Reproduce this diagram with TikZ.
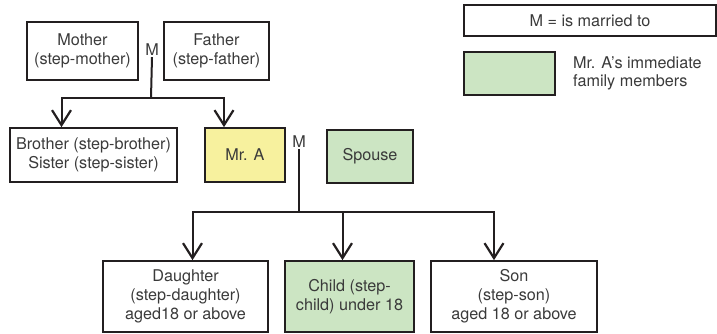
\documentclass[tikz,border=0pt]{standalone}
\usepackage{fontspec}
\setmainfont{TeX Gyre Heros}
\usetikzlibrary{arrows.meta}
\definecolor{lineC}{HTML}{231F20}
\definecolor{txtC}{HTML}{3A3A3A}
\definecolor{yel}{HTML}{F7F19E}
\definecolor{grn}{HTML}{CCE5C3}
\tikzset{
  box/.style={draw=lineC, line width=1.7pt, inner sep=0pt, align=center, text=txtC,
    font=\fontsize{16.2}{18.8}\selectfont},
  mlab/.style={text=txtC, inner sep=1pt, font=\fontsize{16.2}{18.8}\selectfont},
  conn/.style={draw=lineC, line width=2pt},
  arr/.style={conn, -{Straight Barb[length=15pt,width=19pt,line width=2.2pt]}}
}
\begin{document}
\begin{tikzpicture}[x=1pt,y=-1pt]
\useasboundingbox (0,0) rectangle (717,333);
% top generation
\node[box, minimum width=111pt, minimum height=58pt] (mother) at (82.5,51) {Mother\\(step-mother)};
\node[box, minimum width=105pt, minimum height=58pt] (father) at (216.5,51) {Father\\(step-father)};
\node[mlab] (m1) at (152,50) {M};
% middle
\node[box, minimum width=167pt, minimum height=54pt] (brother) at (93.5,155) {Brother (step-brother)\\Sister (step-sister)};
\node[box, fill=yel, minimum width=80pt, minimum height=54pt] (mra) at (245,155) {Mr. A};
\node[mlab] (m2) at (299,142) {M};
\node[box, fill=grn, minimum width=86pt, minimum height=53pt] (spouse) at (370,156.5) {Spouse};
% bottom
\node[box, minimum width=165pt, minimum height=71pt] (daughter) at (185.5,296.5) {Daughter\\(step-daughter)\\aged18 or above};
\node[box, fill=grn, minimum width=129pt, minimum height=71pt] (child) at (349.5,296.5) {Child (step-\\child) under 18};
\node[box, minimum width=166pt, minimum height=71pt] (son) at (514,296.5) {Son\\(step-son)\\aged 18 or above};
% legend
\node[box, minimum width=252pt, minimum height=31pt] (legm) at (590,20.5) {M = is married to};
\node[box, fill=grn, minimum width=91pt, minimum height=43pt] (legg) at (509.5,73.5) {};
\node[mlab, anchor=west, align=left, font=\fontsize{16.2}{18}\selectfont] (legt) at (572,73) {Mr. A’s immediate\\family members};
% connectors
\coordinate (j1) at (151,98);
\coordinate (j2) at (299,212);
\draw[conn] (m1.south) -- (j1);
\draw[arr] (j1) -| ([xshift=-32pt]brother.north);
\draw[arr] (j1) -| ([xshift=-21pt]mra.north);
\draw[conn] (m2.south) -- (j2);
\draw[arr] (j2) -| ([xshift=7pt]daughter.north);
\draw[arr] (j2) -| ([xshift=-7pt]child.north);
\draw[arr] (j2) -| ([xshift=-20pt]son.north);
\end{tikzpicture}
\end{document}
